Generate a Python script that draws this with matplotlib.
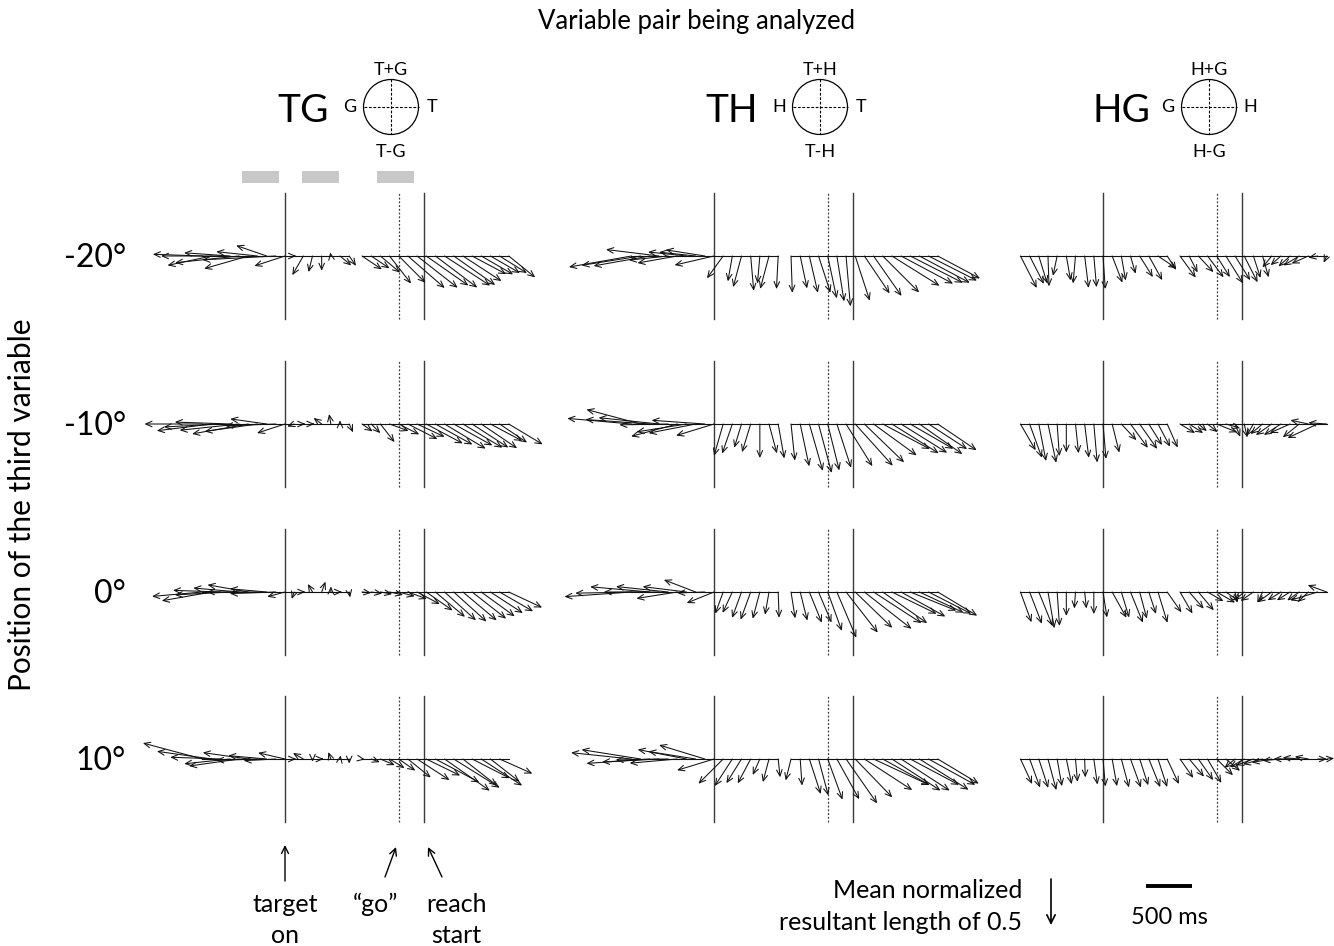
import numpy as np
import matplotlib
matplotlib.use('Agg')
import matplotlib.pyplot as plt
from matplotlib.patches import Circle, Rectangle

plt.rcParams['font.family'] = ['Lato', 'DejaVu Sans']

# ---------------- data ----------------
pairs = ['TG', 'TH', 'HG']
pair_top = ['T+G', 'T+H', 'H+G']
pair_bottom = ['T-G', 'T-H', 'H-G']
pair_left = ['G', 'H', 'G']
pair_right = ['T', 'T', 'H']
rows = ['-20°', '-10°', '0°', '10°']

# time bins (ms): segment 1 aligned on target onset, segment 2 aligned on "go"
t_seg1 = [-900, -800, -700, -600, -500, -400, -300, -200, -100, 0, 100, 200, 300, 400, 500, 600, 700]
t_seg2 = [-400, -300, -200, -100, 0, 100, 200, 300, 400, 500, 600, 700, 800, 900, 1000, 1100, 1200]
go_ms = 1240        # "go" relative to target onset on the time axis
reach_ms = 280      # mean reach start relative to "go"

# mean phase angle (deg) and mean normalized resultant length for every bin
tg_m20_s1_ang = [178, 192, 180, 176, 186, 196, 174, 161, 183, 198, 0, 240, 256, 270, 100, -40, -55]
tg_m20_s1_len = [0.54, 0.49, 0.65, 0.50, 0.70, 0.50, 0.45, 0.35, 0.80, 0.35, 0.02, 0.24, 0.18, 0.16, 0.04, 0.16, 0.13]
tg_m20_s2_ang = [-34, -34, -40, -52, -45, -41, -38, -35, -37, -33, -35, -33, -28, -30, -30, -32, -39]
tg_m20_s2_len = [0.26, 0.24, 0.28, 0.38, 0.41, 0.53, 0.56, 0.56, 0.57, 0.59, 0.55, 0.50, 0.42, 0.40, 0.37, 0.35, 0.37]

tg_m10_s1_ang = [180, 187, 183, 178, 186, 190, 188, 172, 182, 198, 200, 0, 0, 143, 100, 90, -65]
tg_m10_s1_len = [0.63, 0.60, 0.62, 0.60, 0.65, 0.62, 0.58, 0.40, 0.55, 0.32, 0.08, 0.02, 0.02, 0.11, 0.11, 0.04, 0.10]
tg_m10_s2_ang = [-35, -45, -52, -20, -27, -27, -25, -28, -29, -31, -29, -31, -33, -34, -28, -34, -31]
tg_m10_s2_len = [0.14, 0.14, 0.25, 0.22, 0.25, 0.36, 0.33, 0.45, 0.46, 0.52, 0.48, 0.50, 0.47, 0.47, 0.39, 0.36, 0.43]

tg_0_s1_ang = [185, 190, 178, 183, 175, 170, 180, 175, 182, 195, 250, 0, 120, 70, 90, 0, -80]
tg_0_s1_len = [0.55, 0.55, 0.52, 0.60, 0.50, 0.45, 0.55, 0.40, 0.50, 0.20, 0.08, 0.02, 0.10, 0.12, 0.06, 0.02, 0.06]
tg_0_s2_ang = [-5, -8, -10, -12, -15, -20, -28, -35, -40, -42, -42, -40, -38, -36, -33, -30, -25]
tg_0_s2_len = [0.10, 0.12, 0.13, 0.15, 0.18, 0.22, 0.28, 0.35, 0.42, 0.46, 0.48, 0.48, 0.47, 0.45, 0.42, 0.42, 0.40]

tg_p10_s1_ang = [165, 172, 178, 186, 188, 172, 182, 175, 183, 167, 0, 150, -90, 0, 110, 80, -90]
tg_p10_s1_len = [0.67, 0.60, 0.55, 0.50, 0.55, 0.50, 0.45, 0.42, 0.35, 0.30, 0.02, 0.13, 0.03, 0.02, 0.08, 0.04, 0.05]
tg_p10_s2_ang = [-10, -20, -23, -31, -35, -39, -33, -26, -28, -35, -32, -38, -27, -33, -38, -24, -11]
tg_p10_s2_len = [0.03, 0.10, 0.17, 0.19, 0.22, 0.32, 0.42, 0.41, 0.54, 0.60, 0.59, 0.47, 0.46, 0.53, 0.40, 0.39, 0.51]

th_m20_s1_ang = [190, 189, 190, 173, 186, 190, 174, 174, 171, 193, 234, -100, -105, -85, -95, -105, -93]
th_m20_s1_len = [0.69, 0.65, 0.62, 0.58, 0.43, 0.44, 0.42, 0.40, 0.43, 0.44, 0.30, 0.28, 0.35, 0.38, 0.30, 0.37, 0.36]
th_m20_s2_ang = [-88, -78, -77, -72, -78, -81, -85, -72, -56, -55, -45, -32, -28, -27, -28, -27, -28]
th_m20_s2_len = [0.40, 0.36, 0.41, 0.42, 0.47, 0.50, 0.55, 0.51, 0.49, 0.53, 0.56, 0.61, 0.64, 0.64, 0.62, 0.59, 0.52]

th_m10_s1_ang = [175, 165, 176, 174, 181, 195, 189, 191, 176, 197, 254, 251, 253, 253, -90, -75, -80]
th_m10_s1_len = [0.70, 0.61, 0.70, 0.66, 0.53, 0.52, 0.55, 0.52, 0.58, 0.43, 0.36, 0.34, 0.27, 0.32, 0.37, 0.33, 0.38]
th_m10_s2_ang = [-84, -78, -74, -75, -76, -72, -58, -48, -44, -36, -28, -32, -32, -30, -35, -33, -34]
th_m10_s2_len = [0.40, 0.47, 0.53, 0.55, 0.52, 0.50, 0.54, 0.61, 0.60, 0.58, 0.58, 0.60, 0.59, 0.54, 0.57, 0.50, 0.51]

th_0_s1_ang = [184, 181, 175, 180, 174, 189, 173, 159, 182, 202, 250, 245, 250, 250, 255, 260, -88]
th_0_s1_len = [0.73, 0.71, 0.65, 0.60, 0.57, 0.45, 0.48, 0.37, 0.30, 0.32, 0.25, 0.25, 0.30, 0.32, 0.30, 0.25, 0.28]
th_0_s2_ang = [-81, -76, -68, -67, -70, -67, -52, -44, -38, -33, -35, -26, -29, -22, -25, -27, -31]
th_0_s2_len = [0.29, 0.32, 0.36, 0.36, 0.45, 0.54, 0.56, 0.56, 0.65, 0.62, 0.59, 0.54, 0.55, 0.54, 0.53, 0.52, 0.50]

th_p10_s1_ang = [174, 171, 184, 183, 181, 185, 169, 171, 163, 197, 225, 237, 238, 242, 246, 255, -84]
th_p10_s1_len = [0.66, 0.65, 0.69, 0.62, 0.57, 0.52, 0.54, 0.52, 0.52, 0.42, 0.38, 0.35, 0.31, 0.30, 0.19, 0.26, 0.20]
th_p10_s2_ang = [256, -86, -72, -75, -70, -61, -55, -46, -33, -25, -29, -33, -33, -28, -32, -29, -31]
th_p10_s2_len = [0.24, 0.29, 0.40, 0.41, 0.47, 0.50, 0.59, 0.58, 0.62, 0.67, 0.58, 0.63, 0.63, 0.60, 0.63, 0.58, 0.52]

hg_m20_s1_ang = [-63, -63, -73, -88, 258, -80, 265, -83, -85, -86, -69, -80, -74, -58, -61, -34, -57]
hg_m20_s1_len = [0.39, 0.34, 0.31, 0.33, 0.22, 0.27, 0.30, 0.35, 0.34, 0.36, 0.31, 0.27, 0.20, 0.27, 0.30, 0.24, 0.18]
hg_m20_s2_ang = [-54, -63, -47, -53, -58, -58, -58, -63, -72, -74, 231, 222, 222, 211, 204, 190, 245]
hg_m20_s2_len = [0.29, 0.20, 0.24, 0.29, 0.27, 0.35, 0.31, 0.32, 0.25, 0.24, 0.16, 0.15, 0.17, 0.20, 0.20, 0.10, 0.08]

hg_m10_s1_ang = [-60, -70, -79, -78, -86, -90, -84, -83, -85, -85, -76, -47, -54, -55, -58, -62, -66]
hg_m10_s1_len = [0.33, 0.39, 0.41, 0.43, 0.35, 0.31, 0.32, 0.37, 0.42, 0.38, 0.32, 0.24, 0.32, 0.33, 0.27, 0.28, 0.28]
hg_m10_s2_ang = [-31, -33, -40, -39, -22, -16, -68, -77, 240, 220, 215, 213, 204, 219, 168, 205, 176]
hg_m10_s2_len = [0.19, 0.18, 0.12, 0.14, 0.24, 0.16, 0.15, 0.15, 0.15, 0.17, 0.21, 0.22, 0.24, 0.23, 0.20, 0.36, 0.20]

hg_0_s1_ang = [-70, -69, -68, -80, -86, -90, 266, -84, -90, -81, -61, -73, -68, -75, -72, -73, -55]
hg_0_s1_len = [0.35, 0.37, 0.40, 0.40, 0.37, 0.26, 0.18, 0.18, 0.24, 0.28, 0.32, 0.29, 0.36, 0.30, 0.25, 0.35, 0.27]
hg_0_s2_ang = [-60, -49, -50, -30, -30, -35, -78, 220, 215, 244, 216, 212, 212, 215, 223, 197, 160]
hg_0_s2_len = [0.27, 0.24, 0.26, 0.20, 0.23, 0.17, 0.12, 0.14, 0.17, 0.13, 0.19, 0.17, 0.17, 0.16, 0.16, 0.31, 0.22]

hg_p10_s1_ang = [-65, -70, -72, -75, -80, -78, -85, -88, -82, -85, -80, -75, -70, -72, -68, -72, -65]
hg_p10_s1_len = [0.30, 0.33, 0.33, 0.35, 0.30, 0.28, 0.25, 0.20, 0.28, 0.30, 0.30, 0.32, 0.33, 0.30, 0.33, 0.32, 0.30]
hg_p10_s2_ang = [-55, -50, -55, -60, -45, -40, 220, 210, 200, 195, 190, 185, 180, 175, 170, 0, 5]
hg_p10_s2_len = [0.25, 0.25, 0.28, 0.30, 0.25, 0.20, 0.15, 0.18, 0.20, 0.22, 0.22, 0.20, 0.18, 0.18, 0.15, 0.10, 0.08]

panels = {
    ('TG', 0): (tg_m20_s1_ang, tg_m20_s1_len, tg_m20_s2_ang, tg_m20_s2_len),
    ('TG', 1): (tg_m10_s1_ang, tg_m10_s1_len, tg_m10_s2_ang, tg_m10_s2_len),
    ('TG', 2): (tg_0_s1_ang, tg_0_s1_len, tg_0_s2_ang, tg_0_s2_len),
    ('TG', 3): (tg_p10_s1_ang, tg_p10_s1_len, tg_p10_s2_ang, tg_p10_s2_len),
    ('TH', 0): (th_m20_s1_ang, th_m20_s1_len, th_m20_s2_ang, th_m20_s2_len),
    ('TH', 1): (th_m10_s1_ang, th_m10_s1_len, th_m10_s2_ang, th_m10_s2_len),
    ('TH', 2): (th_0_s1_ang, th_0_s1_len, th_0_s2_ang, th_0_s2_len),
    ('TH', 3): (th_p10_s1_ang, th_p10_s1_len, th_p10_s2_ang, th_p10_s2_len),
    ('HG', 0): (hg_m20_s1_ang, hg_m20_s1_len, hg_m20_s2_ang, hg_m20_s2_len),
    ('HG', 1): (hg_m10_s1_ang, hg_m10_s1_len, hg_m10_s2_ang, hg_m10_s2_len),
    ('HG', 2): (hg_0_s1_ang, hg_0_s1_len, hg_0_s2_ang, hg_0_s2_len),
    ('HG', 3): (hg_p10_s1_ang, hg_p10_s1_len, hg_p10_s2_ang, hg_p10_s2_len),
}

# analysis windows (ms, relative to target onset) shown as grey bars
window_start = [-470, 185, 1003]
window_end = [-65, 590, 1407]

# ---------------- layout ----------------
W, H = 1334, 946
fig = plt.figure(figsize=(W / 100, H / 100), dpi=100)

PX_MS = 0.0917            # pixels per ms
PX_UNIT = 92.0            # pixels per unit resultant length
K = PX_UNIT / PX_MS       # ms-equivalent per resultant unit
COL_X = [285, 714, 1103]  # pixel x of target onset in each column
ROW_Y = [256, 424, 592, 759]
XMIN, XMAX = -1700, 2900
YR = 900
VL = 690                  # half length of the event lines
LINE_C = '#3a3a3a'

ARROW = dict(arrowstyle='->,head_length=0.45,head_width=0.2', lw=0.75,
             color='#111111', shrinkA=0, shrinkB=0)


def add_panel(col, row):
    left = COL_X[col] + XMIN * PX_MS
    width = (XMAX - XMIN) * PX_MS
    bottom = H - (ROW_Y[row] + YR * PX_MS)
    height = 2 * YR * PX_MS
    ax = fig.add_axes([left / W, bottom / H, width / W, height / H])
    ax.set_xlim(XMIN, XMAX)
    ax.set_ylim(-YR, YR)
    ax.axis('off')
    return ax


def draw_segment(ax, times, offset, ang, ln):
    t = np.asarray(times, float) + offset
    a = np.deg2rad(np.asarray(ang, float))
    L = np.asarray(ln, float) * K
    ax.plot([t[0], t[-1]], [0, 0], color='#111111', lw=0.8, zorder=3)
    for ti, ai, li in zip(t, a, L):
        ax.annotate('', xy=(ti + li * np.cos(ai), li * np.sin(ai)), xytext=(ti, 0),
                    arrowprops=ARROW, zorder=4)


for c, pname in enumerate(pairs):
    for r in range(len(rows)):
        ax = add_panel(c, r)
        ax.plot([0, 0], [-VL, VL], color=LINE_C, lw=1.0, zorder=2)
        ax.plot([go_ms, go_ms], [-VL, VL], color=LINE_C, lw=0.9, ls=(0, (1.5, 1.5)), zorder=2)
        ax.plot([go_ms + reach_ms] * 2, [-VL, VL], color=LINE_C, lw=1.0, zorder=2)
        s1a, s1l, s2a, s2l = panels[(pname, r)]
        draw_segment(ax, t_seg1, 0, s1a, s1l)
        draw_segment(ax, t_seg2, go_ms, s2a, s2l)
        if c == 0 and r == 0:
            for ws, we in zip(window_start, window_end):
                ax.add_patch(Rectangle((ws, 793), we - ws, 131, color='#c8c8c8',
                                       lw=0, clip_on=False))

# overlay for text in pixel coordinates
ov = fig.add_axes([0, 0, 1, 1], zorder=10)
ov.set_xlim(0, W)
ov.set_ylim(H, 0)
ov.axis('off')
ov.patch.set_alpha(0)

ov.text(697, 22, 'Variable pair being analyzed', ha='center', va='center', fontsize=18.5)
ov.text(22, 505, 'Position of the third variable', ha='center', va='center',
        rotation=90, fontsize=21.5)

for r, lab in enumerate(rows):
    ov.text(126, ROW_Y[r] + 2, lab, ha='right', va='center', fontsize=23)

R = 27.5
for c in range(3):
    tx = COL_X[c]
    ov.text(tx + 18, 111, pairs[c], ha='center', va='center', fontsize=28)
    cx, cy = tx + 106, 107
    ov.add_patch(Circle((cx, cy), R, fill=False, lw=0.9, color='black'))
    ov.plot([cx - R, cx + R], [cy, cy], color='black', lw=0.8, ls=(0, (2.5, 1.5)))
    ov.plot([cx, cx], [cy - R, cy + R], color='black', lw=0.8, ls=(0, (2.5, 1.5)))
    ov.text(cx, cy - 37, pair_top[c], ha='center', va='center', fontsize=13)
    ov.text(cx, cy + 45, pair_bottom[c], ha='center', va='center', fontsize=13)
    ov.text(cx - 41, cy, pair_left[c], ha='center', va='center', fontsize=13)
    ov.text(cx + 41, cy, pair_right[c], ha='center', va='center', fontsize=13)

# event markers below the first column
EV = dict(arrowstyle='->,head_length=0.5,head_width=0.25', lw=1.0, color='black',
          shrinkA=0, shrinkB=0)
ov.annotate('', xy=(285, 845), xytext=(285, 881), arrowprops=EV)
ov.annotate('', xy=(396, 847), xytext=(385, 877), arrowprops=EV)
ov.annotate('', xy=(428, 847), xytext=(442, 877), arrowprops=EV)
ov.text(285, 904, 'target', ha='center', va='center', fontsize=18)
ov.text(285, 935, 'on', ha='center', va='center', fontsize=18)
ov.text(375, 904, '\u201cgo\u201d', ha='center', va='center', fontsize=18)
ov.text(456, 904, 'reach', ha='center', va='center', fontsize=18)
ov.text(456, 935, 'start', ha='center', va='center', fontsize=18)

# length legend
legend_len = 0.5
ov.text(1022, 890, 'Mean normalized', ha='right', va='center', fontsize=18)
ov.text(1022, 922, 'resultant length of 0.5', ha='right', va='center', fontsize=18)
ov.annotate('', xy=(1051, 879 + legend_len * PX_UNIT), xytext=(1051, 879),
            arrowprops=dict(arrowstyle='->,head_length=0.6,head_width=0.3', lw=1.2,
                            color='black', shrinkA=0, shrinkB=0))
# time scale bar
bar_ms = 500
ov.plot([1146, 1146 + bar_ms * PX_MS], [886, 886], color='black', lw=2.8, solid_capstyle='butt')
ov.text(1169, 917, '500 ms', ha='center', va='center', fontsize=17)

fig.savefig('out.png', dpi=100)
